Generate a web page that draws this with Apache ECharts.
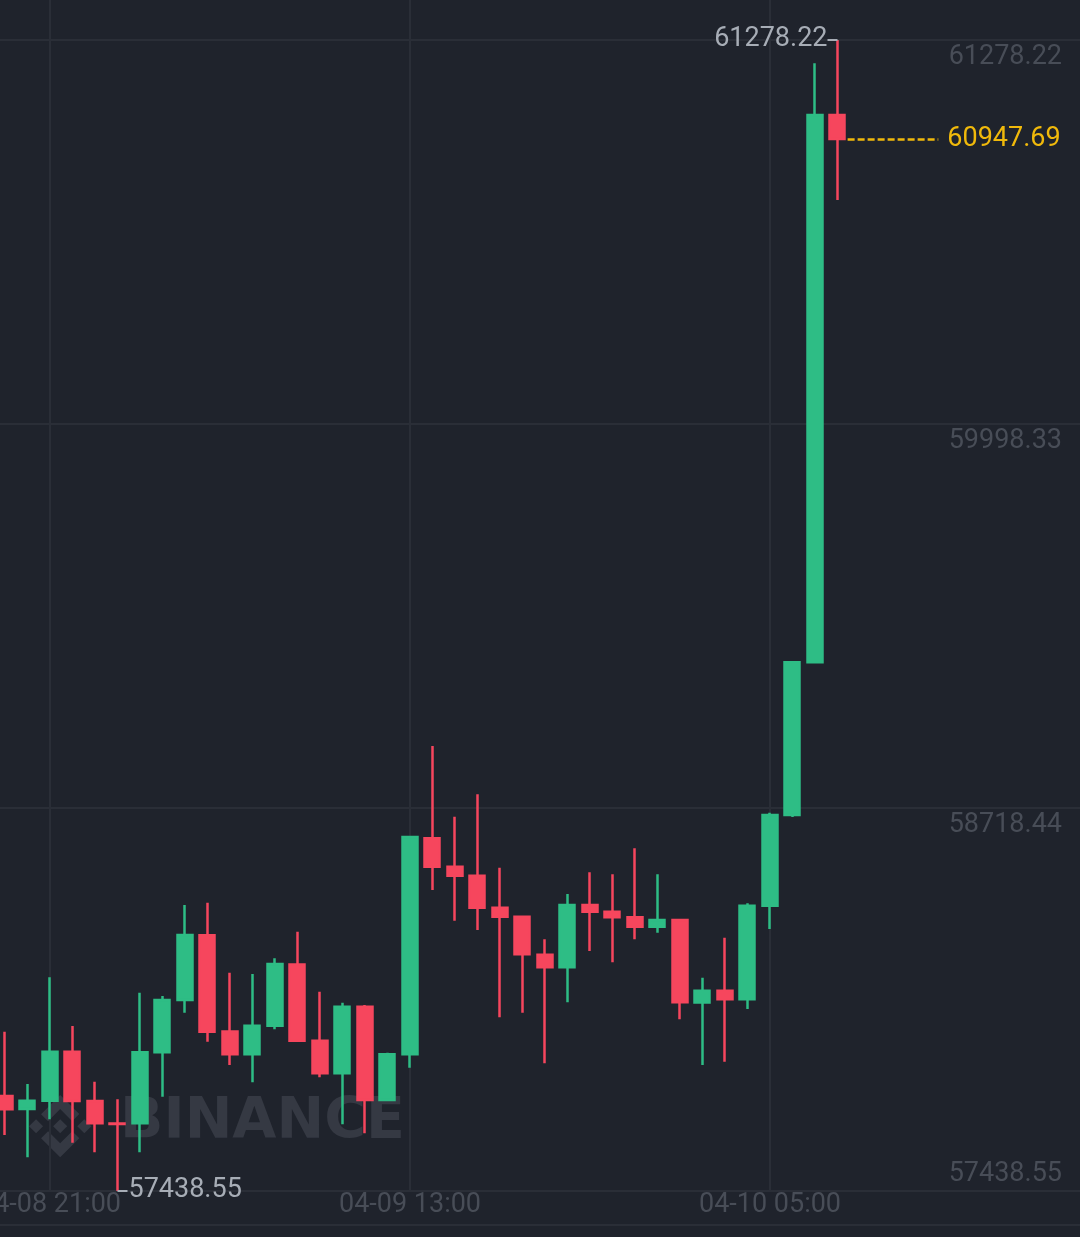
<!DOCTYPE html>
<html>
<head>
<meta charset="utf-8">
<script src="https://cdn.jsdelivr.net/npm/echarts@6/dist/echarts.min.js"></script>
<style>
html,body{margin:0;padding:0;background:#1f232c;}
#c{width:1080px;height:1237px;}
</style>
</head>
<body>
<div id="c"></div>
<script>
// ---- data ----
const times = [
  '04-08 19:00','04-08 20:00','04-08 21:00','04-08 22:00','04-08 23:00',
  '04-09 00:00','04-09 01:00','04-09 02:00','04-09 03:00','04-09 04:00',
  '04-09 05:00','04-09 06:00','04-09 07:00','04-09 08:00','04-09 09:00',
  '04-09 10:00','04-09 11:00','04-09 12:00','04-09 13:00','04-09 14:00',
  '04-09 15:00','04-09 16:00','04-09 17:00','04-09 18:00','04-09 19:00',
  '04-09 20:00','04-09 21:00','04-09 22:00','04-09 23:00','04-10 00:00',
  '04-10 01:00','04-10 02:00','04-10 03:00','04-10 04:00','04-10 05:00',
  '04-10 06:00','04-10 07:00','04-10 08:00'
];
const opens = [
  57755.5, 57712.1, 57739.8, 57903.3, 57738.8, 57663.5, 57664.4, 57901.3, 58076.0, 58291.5,
  57971.0, 57894.6, 57989.5, 58194.0, 57940.0, 57831.2, 58053.4, 57742.1, 57895.0, 58615.0,
  58520.4, 58490.4, 58383.6, 58353.6, 58227.0, 58184.8, 58392.6, 58370.3, 58351.6, 58320.2,
  58342.6, 58067.0, 58106.7, 58078.1, 58390.3, 58692.9, 59202.3, 61028.0
];
const closes = [
  57711.1, 57739.8, 57903.3, 57738.8, 57664.4, 57662.0, 57901.3, 58075.7, 58292.6, 57970.0,
  57894.6, 57990.0, 58195.8, 57940.0, 57831.2, 58053.4, 57742.1, 57894.6, 58619.5, 58520.4,
  58490.4, 58383.6, 58353.6, 58228.2, 58184.8, 58392.6, 58370.3, 58351.6, 58320.2, 58342.6,
  58068.0, 58106.7, 58078.1, 58390.3, 58692.9, 59202.3, 61028.0, 60947.69
];
const lows = [
  57625.4, 57551.0, 57677.7, 57599.7, 57567.7, 57438.55, 57567.7, 57753.1, 58033.4, 57936.6,
  57858.9, 57801.2, 57978.0, 57938.5, 57817.9, 57661.1, 57631.0, 57740.5, 57849.9, 58442.7,
  58340.3, 58309.2, 58018.0, 58033.4, 57864.6, 58068.0, 58239.2, 58201.5, 58278.2, 58300.2,
  58011.3, 57858.9, 57869.9, 58045.7, 58312.6, 58686.2, 59200.5, 60744.5
];
const highs = [
  57970.0, 57795.5, 58151.4, 57989.0, 57803.2, 57744.5, 58100.1, 58089.1, 58392.6, 58400.3,
  58166.8, 58162.5, 58214.8, 58303.6, 58103.4, 58066.7, 58059.0, 57899.9, 58623.0, 58923.1,
  58687.2, 58761.9, 58517.1, 58356.0, 58278.2, 58429.3, 58501.7, 58495.1, 58581.8, 58495.1,
  58343.5, 58150.1, 58283.5, 58398.3, 58700.5, 59203.5, 61200.5, 61278.22
];
const xTickLabels = ['04-08 21:00', '04-09 13:00', '04-10 05:00'];
const yTickValues = [57438.55, 58718.44, 59998.33, 61278.22];
const lastPrice = 60947.69;

// ---- derived ----
const candles = times.map((t, i) => [i, opens[i], closes[i], lows[i], highs[i]]);
const xTickIdx = xTickLabels.map(l => times.indexOf(l));
let maxIdx = 0, minIdx = 0;
highs.forEach((h, i) => { if (h > highs[maxIdx]) maxIdx = i; });
lows.forEach((l, i) => { if (l < lows[minIdx]) minIdx = i; });
const lastIdx = times.length - 1;

const UP = '#2ebd85', DOWN = '#f6465d', GRID = '#2a2e37', AXIS_TXT = '#484d57';
const WM = '#353943';
const FONT = 'Roboto, "Noto Sans", sans-serif';
const FS = 27;

// Binance logo polygons (24-unit box)
const logoPolys = [
  [[11.9885,0.0115],[19.3415,7.3405],[16.6241,10.0559],[11.9885,5.4203],[7.353,10.0798],[4.6356,7.3644]],
  [[16.624,13.9202],[19.3415,16.6356],[11.9885,23.9886],[4.6355,16.6366],[7.353,13.9202],[11.9885,18.5797]],
  [[21.2606,9.2836],[24,12],[21.2846,14.7164],[18.5682,12]],
  [[11.9886,9.2846],[14.7049,11.976],[11.9885,14.6934],[9.2721,12]],
  [[2.7164,9.2836],[5.4088,12],[2.7174,14.6924],[0,12]]
];

const chart = echarts.init(document.getElementById('c'), null, {renderer: 'canvas'});
chart.setOption({
  backgroundColor: '#1f232c',
  animation: false,
  grid: {left: 0, right: 0, top: 0, bottom: 46, containLabel: false, outerBoundsMode: 'none'},
  xAxis: {
    type: 'value',
    min: -0.2222,
    max: 47.7778,
    axisLine: {show: false},
    axisTick: {show: false, customValues: xTickIdx},
    splitLine: {show: true, lineStyle: {color: GRID, width: 2}},
    axisLabel: {
      customValues: xTickIdx,
      hideOverlap: false,
      formatter: v => times[Math.round(v)] || '',
      color: AXIS_TXT, fontSize: FS, fontFamily: FONT, margin: 1
    }
  },
  yAxis: {
    type: 'value',
    position: 'right',
    min: 57438.55,
    max: 61411.59,
    axisLine: {show: false},
    axisTick: {show: false, customValues: yTickValues},
    splitLine: {show: true, lineStyle: {color: GRID, width: 2}},
    axisLabel: {
      inside: true,
      customValues: yTickValues,
      margin: 18,
      verticalAlign: 'middle',
      formatter: v => (Math.abs(v - yTickValues[0]) < 0.01 ? '{lo|' : '{hi|') + v.toFixed(2) + '}',
      rich: {
        hi: {color: AXIS_TXT, fontSize: FS, fontFamily: FONT, padding: [35, 0, 0, 0]},
        lo: {color: AXIS_TXT, fontSize: FS, fontFamily: FONT, padding: [0, 0, 34, 0]}
      }
    }
  },
  graphic: [
    {
      type: 'line', silent: true, z: -1,
      shape: {x1: 0, y1: 1225, x2: 1080, y2: 1225},
      style: {stroke: GRID, lineWidth: 2}
    },
    {
      type: 'group', silent: true, z: -1, x: 29, y: 1095, scaleX: 2.6, scaleY: 2.6,
      children: logoPolys.map(p => ({type: 'polygon', shape: {points: p}, style: {fill: WM}}))
    },
    {
      type: 'text', silent: true, z: -1, x: 120, y: 1123,
      style: {text: 'BINANCE', fill: WM, font: 'bold 57px "DejaVu Sans", sans-serif', verticalAlign: 'middle', align: 'left'}
    }
  ],
  series: [{
    type: 'candlestick',
    data: candles,
    barWidth: 15.5,
    itemStyle: {color: UP, color0: DOWN, borderColor: UP, borderColor0: DOWN, borderWidth: 2.5},
    markPoint: {
      silent: true,
      animation: false,
      data: [
        {
          coord: [maxIdx, highs[maxIdx]],
          symbol: 'rect', symbolSize: [10, 2], symbolOffset: [-5, 0],
          itemStyle: {color: '#a7adb6'},
          label: {show: true, position: 'left', distance: 0, offset: [0, -1],
            formatter: highs[maxIdx].toFixed(2), color: '#a7adb6', fontSize: FS, fontFamily: FONT}
        },
        {
          coord: [minIdx, lows[minIdx]],
          symbol: 'rect', symbolSize: [10, 2], symbolOffset: [5, 0],
          itemStyle: {color: '#a7adb6'},
          label: {show: true, position: 'right', distance: 1, offset: [0, -1],
            formatter: lows[minIdx].toFixed(2), color: '#a7adb6', fontSize: FS, fontFamily: FONT}
        }
      ]
    },
    markLine: {
      silent: true,
      animation: false,
      symbol: ['none', 'none'],
      lineStyle: {color: '#f0b90b', type: [7, 3], width: 2.5},
      label: {show: true, position: 'end', distance: 9, color: '#f0b90b', fontSize: FS, fontFamily: FONT,
        formatter: lastPrice.toFixed(2)},
      data: [[
        {coord: [lastIdx + 0.45, lastPrice]},
        {coord: [lastIdx + 4.48, lastPrice]}
      ]]
    }
  }]
});
</script>
</body>
</html>
